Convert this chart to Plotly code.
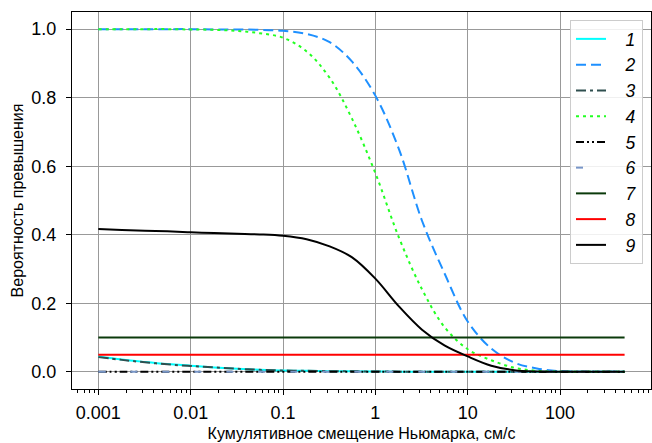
import plotly.graph_objects as go

# Data (quarter-decade sample positions)
x = [0.001, 0.0018, 0.0032, 0.0056, 0.01, 0.018, 0.032, 0.056, 0.1, 0.18, 0.32, 0.56,
     1, 1.8, 3.2, 5.6, 10, 18, 32, 56, 100, 180, 320, 500]

s1 = [0.045, 0.036, 0.029, 0.023, 0.018, 0.013, 0.009, 0.006, 0.004, 0.003, 0.002, 0.0015,
      0.001, 0.0006, 0.0003, 0.0001, 0, 0, 0, 0, 0, 0, 0, 0]
s2 = [1.0, 1.0, 1.0, 1.0, 1.0, 0.999, 0.999, 0.998, 0.995, 0.986, 0.962, 0.905,
      0.806, 0.65, 0.441, 0.288, 0.147, 0.068, 0.027, 0.010, 0.002, 0.0004, 0, 0]
s3 = [0.043, 0.035, 0.028, 0.022, 0.017, 0.013, 0.009, 0.006, 0.004, 0.003, 0.002, 0.0015,
      0.001, 0.0006, 0.0003, 0.0001, 0, 0, 0, 0, 0, 0, 0, 0]
s4 = [1.0, 1.0, 1.0, 1.0, 0.999, 0.998, 0.995, 0.988, 0.975, 0.935, 0.858, 0.738,
      0.58, 0.392, 0.241, 0.131, 0.066, 0.034, 0.012, 0.003, 0.0005, 0, 0, 0]
s5 = [0.0] * len(x)
s6 = [0.0] * len(x)
s7 = [0.1] * len(x)
s8 = [0.05] * len(x)
s9 = [0.417, 0.414, 0.412, 0.41, 0.407, 0.405, 0.403, 0.401, 0.397, 0.387, 0.366, 0.334,
      0.272, 0.191, 0.123, 0.077, 0.045, 0.018, 0.005, 0.001, 0.0002, 0, 0, 0]

names = ["1", "2", "3", "4", "5", "6", "7", "8", "9"]
series = [s1, s2, s3, s4, s5, s6, s7, s8, s9]
colors = ["#00ffff", "#1e90ff", "#2f4f4f", "#22ff22", "#000000", "#7896c8",
          "#0b3a0b", "#ff0000", "#000000"]
dashes = ["solid", "10px,5px", "10px,4px,3px,4px", "3px,4px", "8px,3px,2px,3px,2px,3px",
          "7px,25px", "solid", "solid", "solid"]

xtickvals = [0.001, 0.01, 0.1, 1, 10, 100]
xticktext = ["0.001", "0.01", "0.1", "1", "10", "100"]
ytickvals = [0.0, 0.2, 0.4, 0.6, 0.8, 1.0]

fig = go.Figure()
for n, s, c, d in zip(names, series, colors, dashes):
    fig.add_trace(go.Scatter(x=x, y=s, name="\u00a0\u00a0\u00a0" + n, mode="lines",
                             line=dict(color=c, width=2, dash=d, shape="spline", smoothing=1.0)))

minor_vals = [k * 10 ** e for e in range(-4, 3) for k in range(2, 10)]

fig.update_layout(
    width=652, height=443,
    margin=dict(l=72, r=1, t=12, b=54),
    paper_bgcolor="white", plot_bgcolor="white",
    font=dict(family="Liberation Sans, Arial, sans-serif", color="black", size=18),
    legend=dict(x=(570 - 72) / 579, y=(389 - 20) / 377, xanchor="left", yanchor="top",
                bgcolor="rgba(255,255,255,0.85)", bordercolor="#cccccc", borderwidth=1,
                font=dict(size=17.5, style="italic"), tracegroupgap=0),
    showlegend=True,
)
fig.update_xaxes(
    type="log", range=[-3.285, 2.985], automargin=False,
    tickvals=xtickvals, ticktext=xticktext,
    showgrid=True, gridcolor="#999999", gridwidth=1,
    showline=True, linecolor="black", linewidth=1, mirror=True,
    ticks="outside", ticklen=5, tickcolor="black", ticklabelstandoff=2,
    minor=dict(tickvals=minor_vals, ticks="outside", ticklen=3, tickcolor="black", showgrid=False),
    title=dict(text="Кумулятивное смещение Ньюмарка, см/с", font=dict(size=16), standoff=6),
    zeroline=False,
)
fig.update_yaxes(
    range=[-0.05, 1.05], automargin=False,
    tickvals=ytickvals, tickformat=".1f",
    showgrid=True, gridcolor="#999999", gridwidth=1,
    showline=True, linecolor="black", linewidth=1, mirror=True,
    ticks="outside", ticklen=5, tickcolor="black", ticklabelstandoff=6,
    title=dict(text="Вероятность превышения", font=dict(size=16), standoff=3),
    zeroline=False,
)

fig.write_html("out.html", config={"displayModeBar": False},
               post_script="document.body.style.margin='0';")
